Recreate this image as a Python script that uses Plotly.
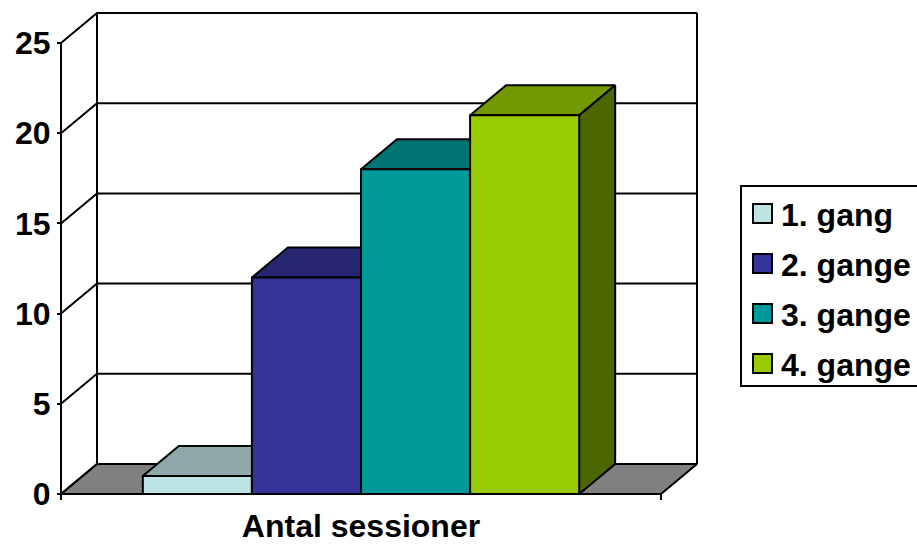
import plotly.graph_objects as go

# ---------------- data ----------------
category = "Antal sessioner"
series_names = ["1. gang", "2. gange", "3. gange", "4. gange"]
values = [1, 12, 18, 21]
front_colors = ["#BDE3E5", "#333399", "#009999", "#99CC00"]
top_colors = ["#8FA9AB", "#262673", "#007373", "#739900"]
side_colors = ["#5F7173", "#1A1A4D", "#004D4D", "#4D6600"]
y_ticks = [0, 5, 10, 15, 20, 25]

# ---------------- geometry / style ----------------
W, H = 917, 544
AX_LEFT_PX = 61          # pixel where the category axis starts
AX_LEN_PX = 600          # pixel length of the category axis (x from 0 to 1)
Y0_PX = 494              # pixel row of value 0
PX_PER_UNIT = 451 / 25   # pixels per value unit
DX = 36 / AX_LEN_PX      # depth offset in x units
DY = 30 / PX_PER_UNIT    # depth offset in value units
GAP = 1.5                # excel gap width (relative to bar width)
FONT = "Liberation Sans, Arial, sans-serif"
LW = 2

x_range = [-AX_LEFT_PX / AX_LEN_PX, (W - AX_LEFT_PX) / AX_LEN_PX]
y_range = [-(H - Y0_PX) / PX_PER_UNIT, Y0_PX / PX_PER_UNIT]
y_max = y_ticks[-1]

fig = go.Figure()


def poly(xs, ys, color, name=""):
    fig.add_trace(go.Scatter(
        x=list(xs) + [xs[0]], y=list(ys) + [ys[0]], mode="lines",
        fill="toself", fillcolor=color, line=dict(color="black", width=LW),
        hoverinfo="skip", showlegend=False, name=name))


def lines(xs, ys, width=LW):
    fig.add_trace(go.Scatter(
        x=xs, y=ys, mode="lines", line=dict(color="black", width=width),
        hoverinfo="skip", showlegend=False))


# floor
poly([0, DX, 1 + DX, 1], [0, DY, DY, 0], "#808080")

# walls: gridlines on back wall + diagonals on side wall
gx, gy = [], []
for v in y_ticks:
    gx += [0, DX, 1 + DX, None]
    gy += [v, v + DY, v + DY, None]
gx += [DX, DX, None, 1 + DX, 1 + DX, None]
gy += [DY, y_max + DY, None, DY, y_max + DY, None]
lines(gx, gy)

# value axis line and category axis ticks
lines([0, 0, None, 0, 1, None, 0, 0, None, 1, 1],
      [0, y_max, None, 0, 0, None, 0, -6 / PX_PER_UNIT, None, 0, -6 / PX_PER_UNIT])

# bars
n = len(values)
bw = 1 / (n + GAP)
for i, v in enumerate(values):
    x0 = GAP / 2 * bw + i * bw
    x1 = x0 + bw
    poly([x0, x0 + DX, x1 + DX, x1], [v, v + DY, v + DY, v], top_colors[i], series_names[i])
    poly([x1, x1, x1 + DX, x1 + DX], [0, v, v + DY, DY], side_colors[i], series_names[i])
    poly([x0, x0, x1, x1], [0, v, v, 0], front_colors[i], series_names[i])

# manual legend (clipped at right edge like the reference)
def px_x(p):
    return p / W


def px_y(p):
    return 1 - p / H


shapes = [dict(type="rect", xref="paper", yref="paper",
               x0=px_x(741), x1=px_x(960), y0=px_y(386), y1=px_y(186),
               line=dict(color="black", width=LW), fillcolor="white", layer="below")]
annotations = []
for i, name in enumerate(series_names):
    cy = 213.5 + 50 * i
    shapes.append(dict(type="rect", xref="paper", yref="paper",
                       x0=px_x(753), x1=px_x(772), y0=px_y(cy + 9.5), y1=px_y(cy - 9.5),
                       line=dict(color="black", width=LW), fillcolor=front_colors[i]))
    annotations.append(dict(xref="paper", yref="paper", x=px_x(779), y=px_y(cy + 1),
                            xanchor="left", yanchor="middle", showarrow=False,
                            text=name, font=dict(family=FONT, size=32, color="black", weight="bold")))

fig.update_layout(
    width=W, height=H, margin=dict(l=0, r=0, t=0, b=0, autoexpand=False),
    paper_bgcolor="white", plot_bgcolor="white", showlegend=False,
    shapes=shapes, annotations=annotations,
    xaxis=dict(range=x_range, domain=[0, 1], anchor="free", position=(H - Y0_PX) / H,
               tickvals=[0.5], ticktext=[category], ticks="", showgrid=False,
               zeroline=False, showline=False, fixedrange=True, ticklabelstandoff=10,
               tickfont=dict(family=FONT, size=32, color="black", weight="bold")),
    yaxis=dict(range=y_range, domain=[0, 1], anchor="free", position=AX_LEFT_PX / W,
               tickvals=y_ticks, ticks="outside", ticklen=4, tickwidth=LW, tickcolor="black",
               showgrid=False, zeroline=False, showline=False, fixedrange=True,
               tickfont=dict(family=FONT, size=32, color="black", weight="bold")),
)

fig.write_html("out.html")
